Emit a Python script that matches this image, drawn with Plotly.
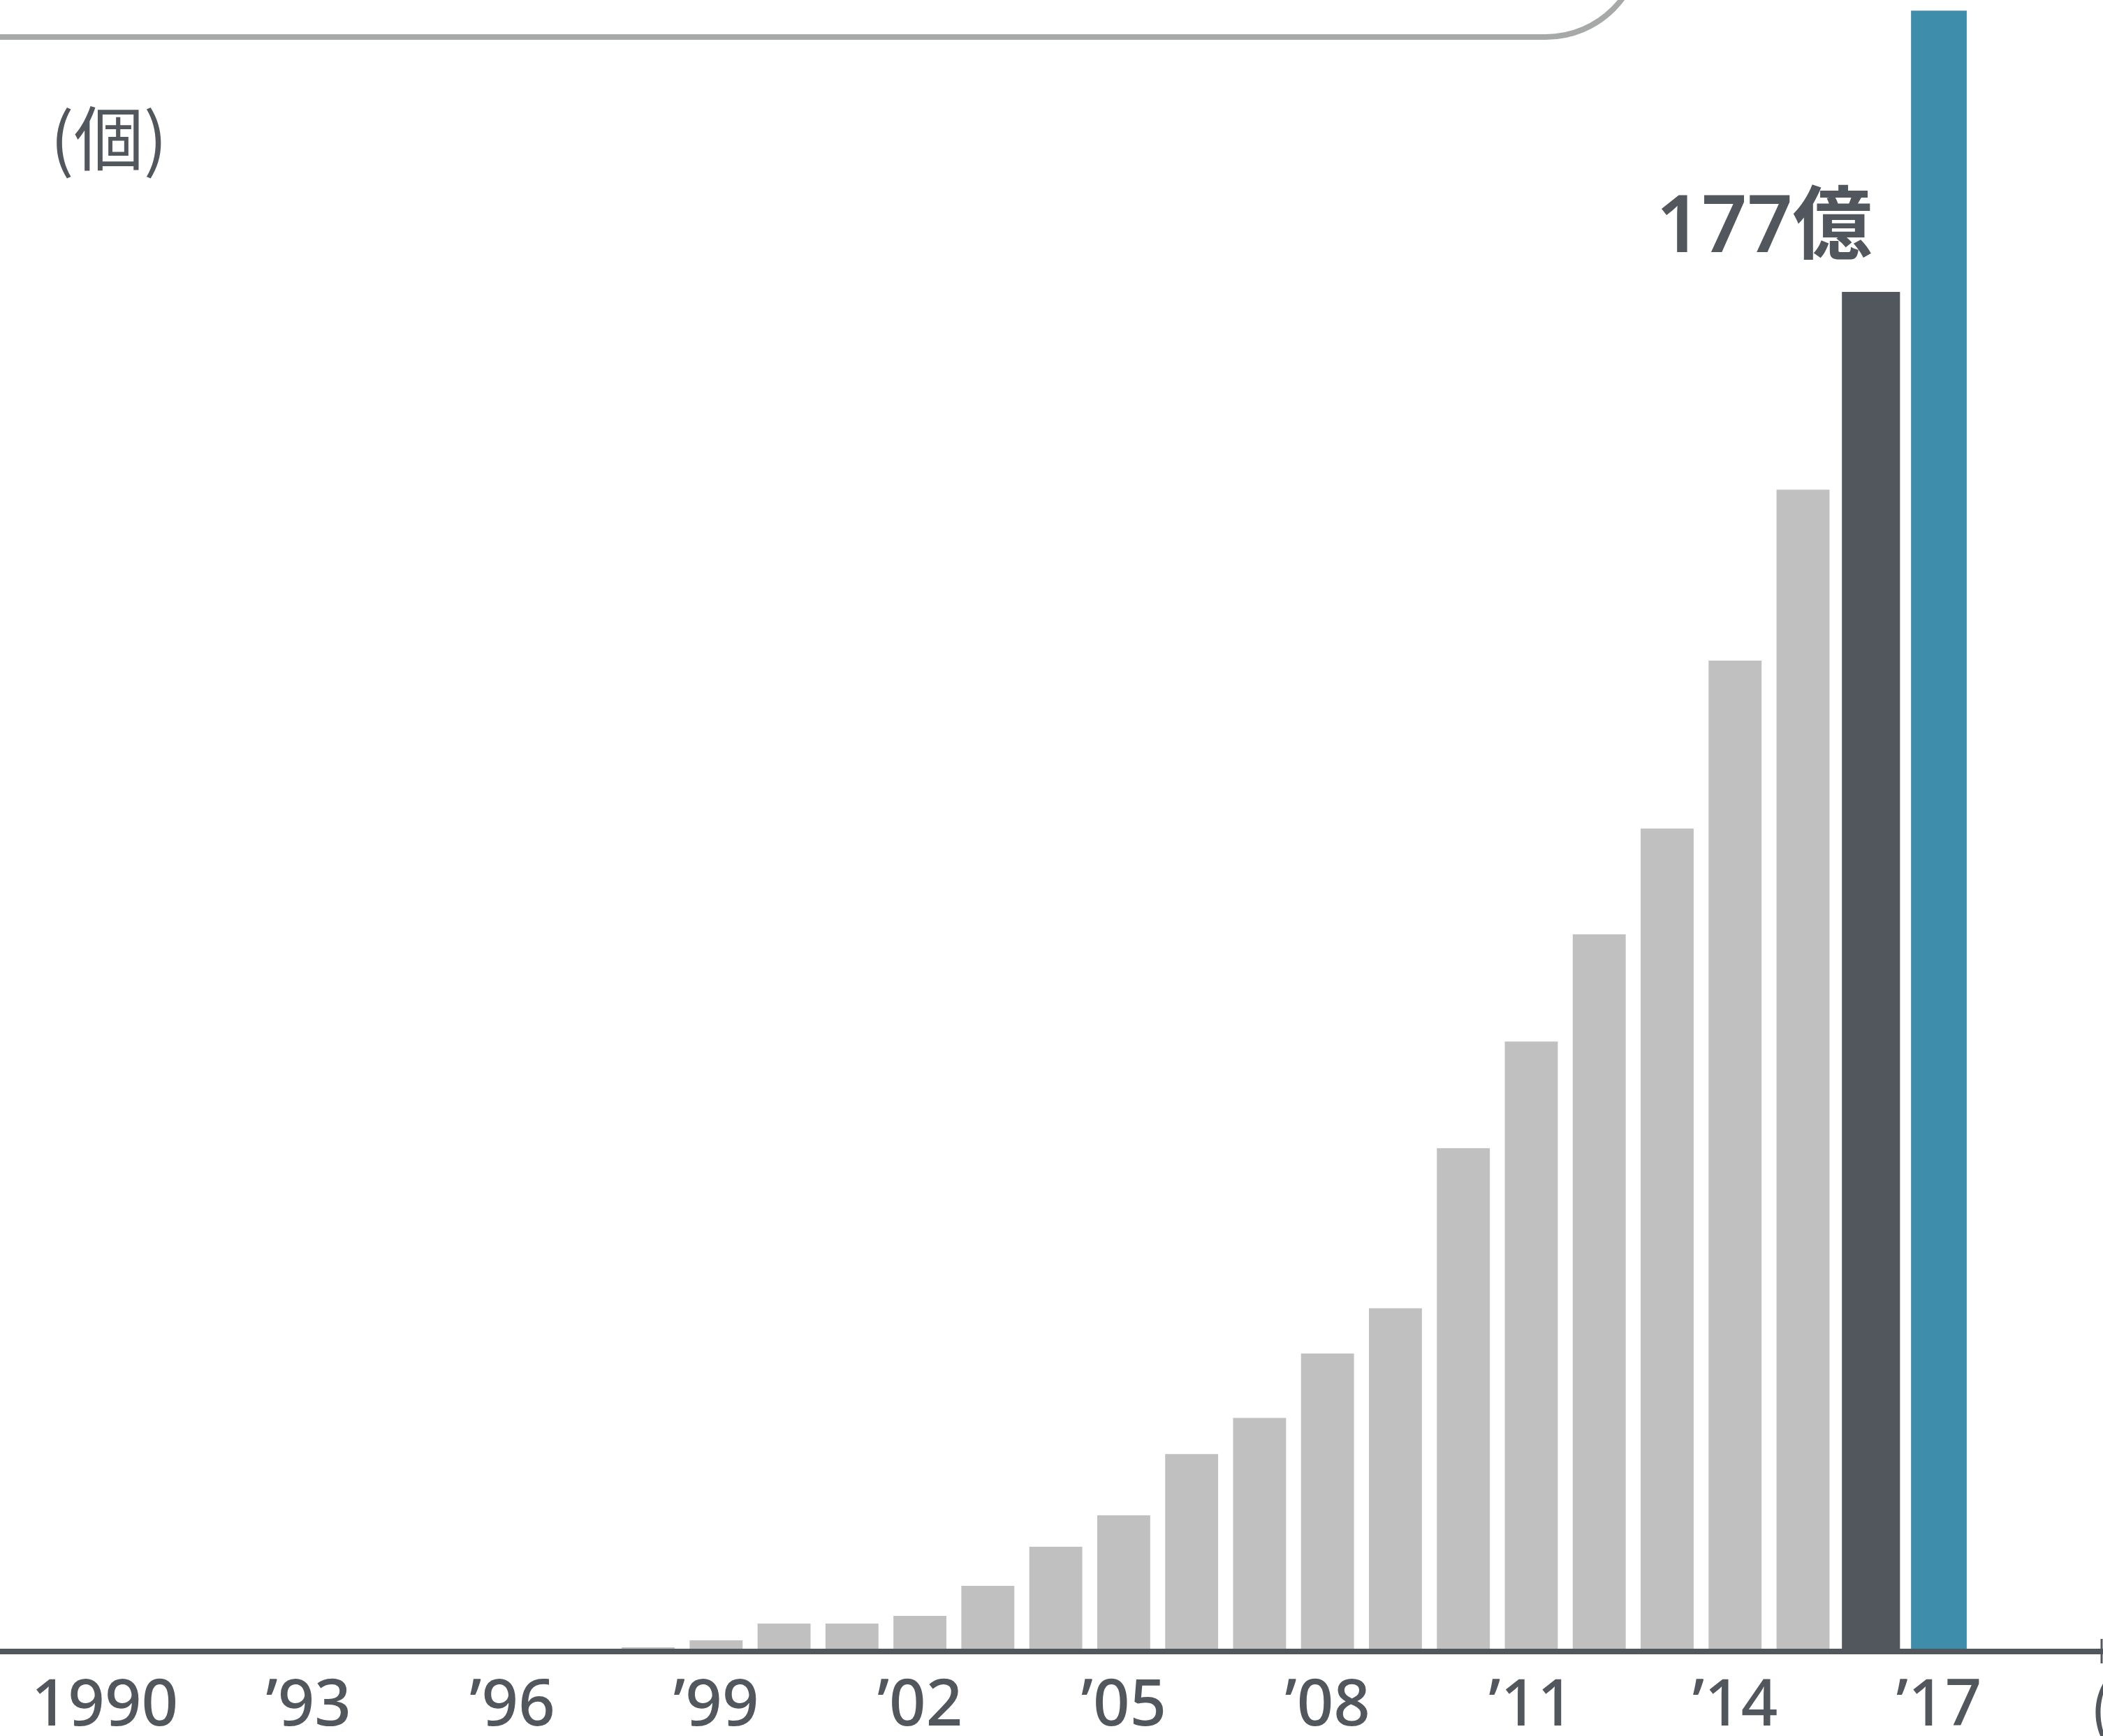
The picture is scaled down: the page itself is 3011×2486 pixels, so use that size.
import plotly.graph_objects as go

# ---- data ----
years = list(range(1990, 2018))
values = [0, 0, 0, 0, 0, 0, 0, 0,
          0.14, 1.09, 3.28, 3.28, 4.28, 8.2, 13.3, 17.4, 25.4, 30.1,
          38.5, 44.4, 65.3, 79.2, 93.2, 107.0, 128.9, 151.2, 177.0, 213.7]
tick_years = [1990, 1993, 1996, 1999, 2002, 2005, 2008, 2011, 2014, 2017]
tick_labels = ["1990", "’93", "’96", "’99", "’02", "’05", "’08", "’11", "’14", "’17"]
highlight_label = "177億"
unit_label = "(個)"
x_unit_label = "(年)"

# ---- styles ----
W, H = 3011, 2486
PLOT_BOTTOM = 2361
GRAY = "#c0c0c0"
DARK = "#52575e"
TEAL = "#3e8eab"
BOX = "#a7a9a9"
FONT = "Noto Sans, Liberation Sans, sans-serif"
CJK = "Noto Sans CJK JP, Noto Sans, sans-serif"
MIX = "Noto Sans, Noto Sans CJK JP, sans-serif"

colors = [GRAY] * (len(years) - 2) + [DARK, TEAL]
widths = [0.78] * (len(years) - 2) + [0.855, 0.82]


def px(p):
    return p / W


def py(p):
    return 1 - p / PLOT_BOTTOM


fig = go.Figure(
    go.Bar(x=years, y=values, marker=dict(color=colors, line=dict(width=0)),
           width=widths, hoverinfo="x+y")
)

fig.update_layout(
    width=W, height=H,
    margin=dict(l=0, r=0, t=0, b=H - PLOT_BOTTOM, pad=0),
    paper_bgcolor="white", plot_bgcolor="white",
    showlegend=False,
    xaxis=dict(range=[1988.458, 2019.416], showline=True, linewidth=8,
               linecolor=DARK, showgrid=False, zeroline=False, ticks="",
               tickmode="array", tickvals=tick_years, ticktext=tick_labels,
               tickfont=dict(family=FONT, size=92, color=DARK, weight=500),
               ticklabelstandoff=-8, automargin=False, fixedrange=True),
    yaxis=dict(range=[0, 215.08], visible=False, fixedrange=True,
               automargin=False),
    annotations=[
        dict(x=2016, y=177, xref="x", yref="y", text=highlight_label,
             showarrow=False, xanchor="right", yanchor="bottom", xshift=4, yshift=22,
             font=dict(family=MIX, size=114, color=DARK, weight=600)),
        dict(x=px(70), y=py(118), xref="paper", yref="paper", text=unit_label,
             showarrow=False, xanchor="left", yanchor="top",
             font=dict(family=CJK, size=100, color=DARK)),
        dict(x=px(2990), y=py(2440), xref="paper", yref="paper", text=x_unit_label,
             showarrow=False, xanchor="left", yanchor="middle",
             font=dict(family=CJK, size=92, color=DARK)),
    ],
    shapes=[
        dict(type="path", xref="paper", yref="paper",
             path=(f"M {px(-20)},{py(53)} L {px(2213)},{py(53)} "
                   f"C {px(2288.6)},{py(53)} {px(2350)},{py(-8.4)} {px(2350)},{py(-84)}"),
             line=dict(color=BOX, width=8)),
        dict(type="line", xref="paper", yref="paper",
             x0=px(3009), x1=px(3009), y0=py(2347), y1=py(2382),
             line=dict(color=DARK, width=3)),
    ],
)

fig.write_html("out.html", config={"displayModeBar": False},
               post_script="document.body.style.margin='0';")
